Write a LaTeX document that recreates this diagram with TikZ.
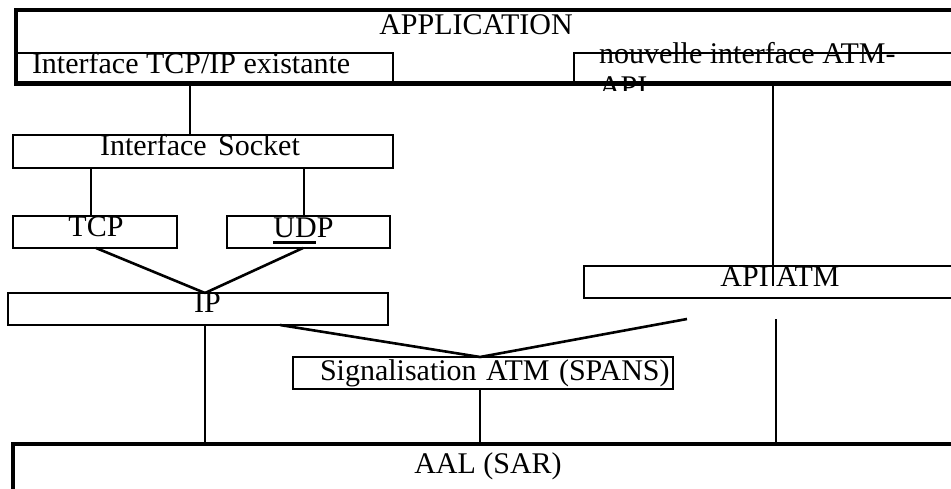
\documentclass[tikz,border=0pt]{standalone}
\usepackage{fontspec}
\setmainfont{Liberation Serif}
\usetikzlibrary{calc}
\begin{document}
\begin{tikzpicture}[x=1pt,y=-1pt,
  box/.style={draw,rectangle,line width=2.3pt,inner sep=0pt,outer sep=0pt,anchor=north west},
  heavy/.style={box,line width=4.8pt},
  lbl/.style={inner sep=0pt,outer sep=0pt,font=\fontsize{30}{33}\selectfont},
  link/.style={line width=1.6pt},
  slant/.style={line width=2.6pt}]
\useasboundingbox (0,0) rectangle (951,488);

% upper interfaces inside the application block
\node[box,minimum width=377pt,minimum height=30.5pt] (tcpip) at (16,53) {};
\node[lbl,anchor=base west] (tcpiptext) at (32,73) {Interface TCP/IP existante};
\node[box,minimum width=400pt,minimum height=30.5pt] (nouv) at (574,53) {};
\begin{scope}
  \clip (560,40) rectangle (960,90);
  \node[lbl,anchor=base west] (nouvtext) at (599,63) {nouvelle interface ATM-};
  \node[lbl,anchor=base west] (nouvtext2) at (599,96) {API};
\end{scope}

% application block
\node[heavy,minimum width=960pt,minimum height=73.5pt] (app) at (16,10) {};
\node[lbl,anchor=base] (apptext) at (476,34) {APPLICATION};

% socket stack
\node[box,minimum width=380pt,minimum height=33pt] (socket) at (13,135) {};
\node[lbl,anchor=base] (sockettext) at (200,155) {Interface\hspace{4pt} Socket};
\node[box,minimum width=164pt,minimum height=32pt] (tcp) at (13,216) {};
\node[lbl,anchor=base] (tcptext) at (96,236) {TCP};
\node[box,minimum width=163pt,minimum height=32pt] (udp) at (227,216) {};
\node[lbl,anchor=base] (udptext) at (303.5,237) {UDP};
\draw[line width=3pt] ($(udptext.base west)+(0,5.3)$) -- ++(43,0);
\node[box,minimum width=380pt,minimum height=32pt] (ip) at (8,293) {};
\node[lbl,anchor=base] (iptext) at (207.5,312) {IP};

% ATM side
\node[box,minimum width=400pt,minimum height=32pt] (api) at (584,266) {};
\node[lbl,anchor=base] (apitext) at (780,286) {API ATM};
\node[box,minimum width=380pt,minimum height=32pt] (sig) at (293,357) {};
\node[lbl,anchor=base west] (sigtext) at (320,380) {Signalisation\hspace{2pt} ATM\hspace{2pt} (SPANS)};

% adaptation layer
\node[heavy,minimum width=960pt,minimum height=100pt] (aal) at (13,444) {};
\node[lbl,anchor=base] (aaltext) at (488,473) {AAL (SAR)};

% free ends below the API ATM block
\coordinate (atmtap1) at (687,319);
\coordinate (atmtap2) at (776,319);

% connectors
\draw[link] ($(tcpip.south west)+(174,0)$) -- ($(socket.north west)+(177,0)$);
\draw[link] ($(socket.south west)+(78,0)$) -- ($(tcp.north west)+(78,0)$);
\draw[link] ($(socket.south west)+(291,0)$) -- ($(udp.north west)+(77,0)$);
\draw[slant] ($(tcp.south west)+(83,0)$) -- ($(ip.north west)+(197,0)$);
\draw[slant] ($(udp.south west)+(76,0)$) -- ($(ip.north west)+(197,0)$);
\draw[slant] ($(ip.south west)+(272,0)$) -- ($(sig.north west)+(187,0)$);
\draw[slant] (atmtap1) -- ($(sig.north west)+(187,0)$);
\draw[link] ($(ip.south west)+(197,0)$) coordinate (ipfoot) -- (ipfoot |- aal.north);
\draw[link] ($(sig.south west)+(187,0)$) coordinate (sigfoot) -- (sigfoot |- aal.north);
\draw[link] (atmtap2) -- (atmtap2 |- aal.north);
\draw[link] ($(nouv.south west)+(199,0)$) coordinate (nouvfoot) -- (nouvfoot |- apitext.base);
\end{tikzpicture}
\end{document}
